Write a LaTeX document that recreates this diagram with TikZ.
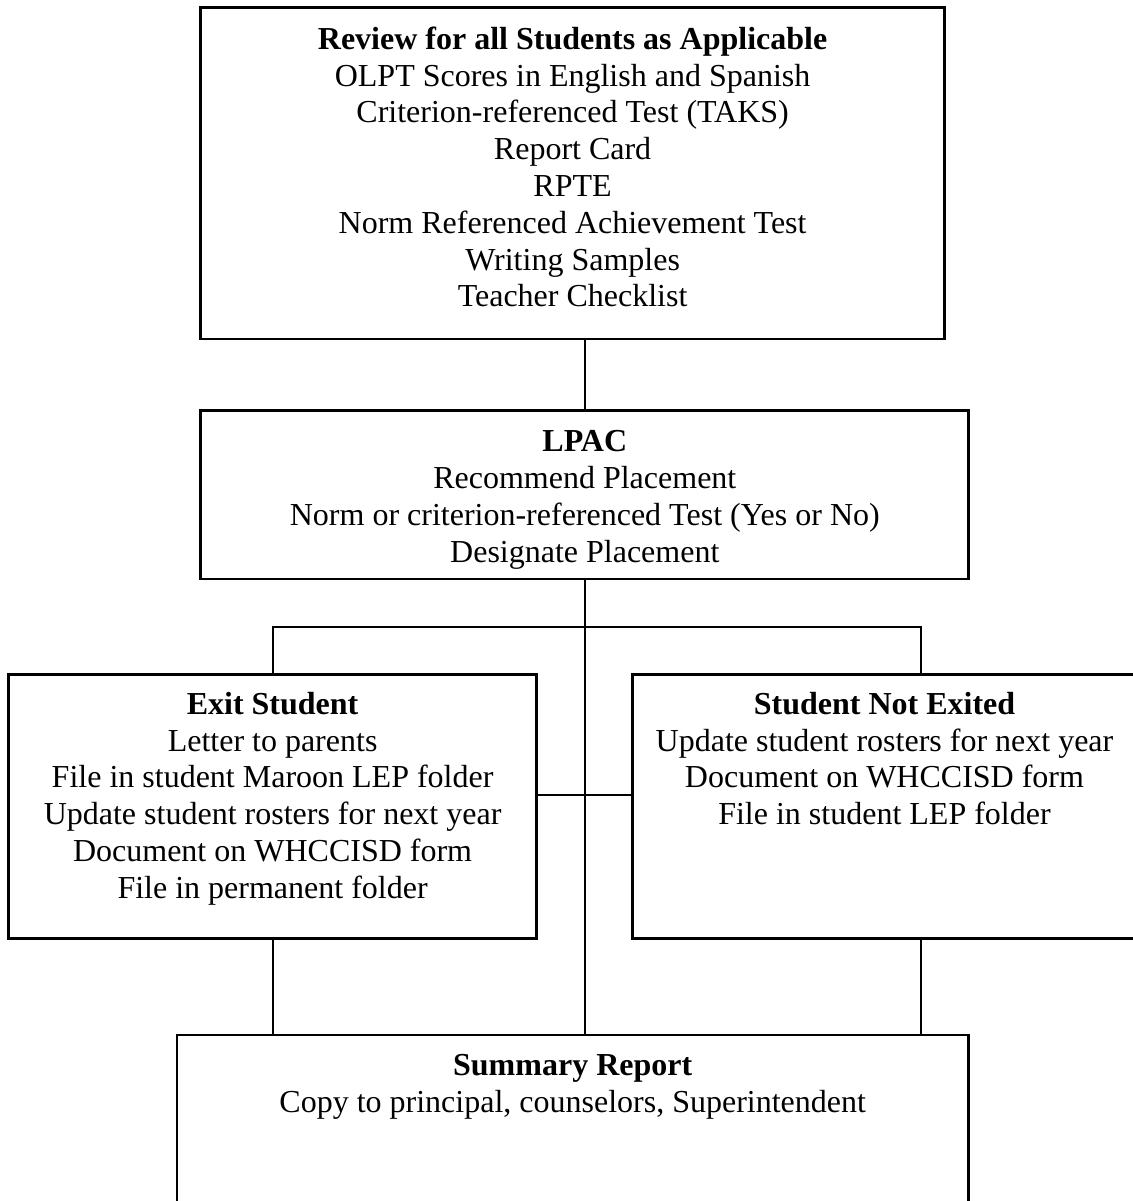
\documentclass[tikz,border=0pt]{standalone}
\usepackage{fontspec}
\setmainfont{Liberation Serif}
\begin{document}
\begin{tikzpicture}[x=1pt,y=-1pt,
  box/.style={draw, line width=2.6pt, inner sep=0pt, outer sep=0pt},
  txt/.style={align=center, inner sep=0pt, outer sep=0pt, anchor=north, font=\fontsize{32}{36.8}\selectfont},
  link/.style={line width=2pt}]
\useasboundingbox (0,0) rectangle (1132,1201);

% boxes
\node[box, minimum width=744.1pt, minimum height=331.7pt] (top) at (572.55,173.15) {};
\node[box, minimum width=767.8pt, minimum height=168.3pt] (lpac) at (584.6,494.85) {};
\node[box, minimum width=527.8pt, minimum height=264.3pt] (exit) at (272.6,806.45) {};
\node[box, minimum width=503.5pt, minimum height=264.3pt] (notex) at (884.25,806.45) {};
\node[box, minimum width=791.4pt, minimum height=170pt] (sum) at (572.7,1120) {};

% texts
\node[txt] (toptext) at (572.6,23.5) {\strut\textbf{Review for all Students as Applicable}\\
  OLPT Scores in English and Spanish\\
  Criterion-referenced Test (TAKS)\\
  Report Card\\
  RPTE\\
  Norm Referenced Achievement Test\\
  Writing Samples\\
  Teacher Checklist};
\node[txt] (lpactext) at (584.8,426) {\strut\textbf{LPAC}\\
  Recommend Placement\\
  Norm or criterion-referenced Test (Yes or No)\\
  Designate Placement};
\node[txt] (exittext) at (272.6,688.5) {\strut\textbf{Exit Student}\\
  Letter to parents\\
  File in student Maroon LEP folder\\
  Update student rosters for next year\\
  Document on WHCCISD form\\
  File in permanent folder};
\node[txt] (notextext) at (884.5,688.5) {\strut\textbf{Student Not Exited}\\
  Update student rosters for next year\\
  Document on WHCCISD form\\
  File in student LEP folder};
\node[txt] (sumtext) at (572.7,1050.2) {\strut\textbf{Summary Report}\\
  Copy to principal, counselors, Superintendent};

% connector helpers
\coordinate (bl) at (273,627);
\coordinate (br) at (920.5,627);
\coordinate (mid) at (585,794.6);

% connectors
\draw[link] (lpac.north |- top.south) -- (lpac.north);
\draw[link] (lpac.south) -- (lpac.south |- sum.north);
\draw[link] (exit.north -| bl) -- (bl) -- (br) -- (notex.north -| br);
\draw[link] (exit.east |- mid) -- (notex.west |- mid);
\draw[link] (exit.south -| bl) -- (sum.north -| bl);
\draw[link] (notex.south -| br) -- (sum.north -| br);
\end{tikzpicture}
\end{document}
